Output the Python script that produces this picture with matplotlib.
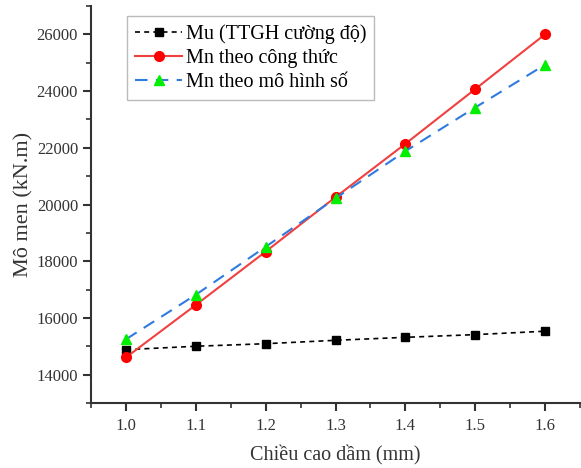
import matplotlib
matplotlib.use("Agg")
import matplotlib.pyplot as plt
from matplotlib.ticker import MultipleLocator

x = [1.0, 1.1, 1.2, 1.3, 1.4, 1.5, 1.6]
mu = [14880, 15000, 15090, 15210, 15315, 15410, 15530]
mn_formula = [14610, 16460, 18340, 20260, 22140, 24070, 26000]
mn_model = [15250, 16820, 18510, 20220, 21880, 23420, 24930]
labels = ["Mu (TTGH cường độ)", "Mn theo công thức", "Mn theo mô hình số"]

plt.rcParams['font.family'] = ['Liberation Serif', 'DejaVu Serif']

fig = plt.figure(figsize=(5.81, 4.68), dpi=100)
ax = fig.add_axes([0.157, 0.139, 0.841, 0.848])

ax.plot(x, mu, color='black', linestyle=(0, (3, 2.5)), linewidth=1.2,
        marker='s', markersize=6, markerfacecolor='black', label=labels[0])
ax.plot(x, mn_formula, color='#f04040', linestyle='-', linewidth=1.5,
        marker='o', markersize=7, markerfacecolor='#ff0000', markeredgecolor='#ff0000',
        label=labels[1])
ax.plot(x, mn_model, color='#2f7be0', linestyle=(0, (6, 4)), linewidth=1.5,
        marker='^', markersize=7.5, markerfacecolor='#00ee00', markeredgecolor='#00ee00',
        label=labels[2])

ax.set_xlim(0.95, 1.65)
ax.set_ylim(13000, 27000)
ax.xaxis.set_major_locator(MultipleLocator(0.1))
ax.xaxis.set_minor_locator(MultipleLocator(0.05))
ax.yaxis.set_major_locator(MultipleLocator(2000))
ax.yaxis.set_minor_locator(MultipleLocator(1000))
ax.set_xticks(x)
ax.set_xticklabels([f"{v:.1f}" for v in x])

for s in ['top', 'right']:
    ax.spines[s].set_visible(False)
for s in ['left', 'bottom']:
    ax.spines[s].set_linewidth(1.5)
    ax.spines[s].set_color('#333333')

ax.tick_params(which='major', direction='out', length=6, width=1.5, labelsize=12,
               colors='#333333', labelcolor='#333333')
ax.tick_params(axis='x', which='major', pad=5)
ax.tick_params(which='minor', direction='out', length=3.5, width=1.2, colors='#333333')

ax.set_xlabel("Chiều cao dầm (mm)", fontsize=14.5, color='#333333', labelpad=8)
ax.set_ylabel("Mô men (kN.m)", fontsize=16, color='#333333', labelpad=2)

leg = ax.legend(loc='upper left', bbox_to_anchor=(0.074, 0.975), fontsize=14.5,
                frameon=True, fancybox=False, edgecolor='#aaaaaa',
                handlelength=2.3, labelspacing=0.25, borderpad=0.4,
                handletextpad=0.2, borderaxespad=0.0)
leg.get_frame().set_linewidth(1.0)

fig.savefig("out.png", dpi=100)
